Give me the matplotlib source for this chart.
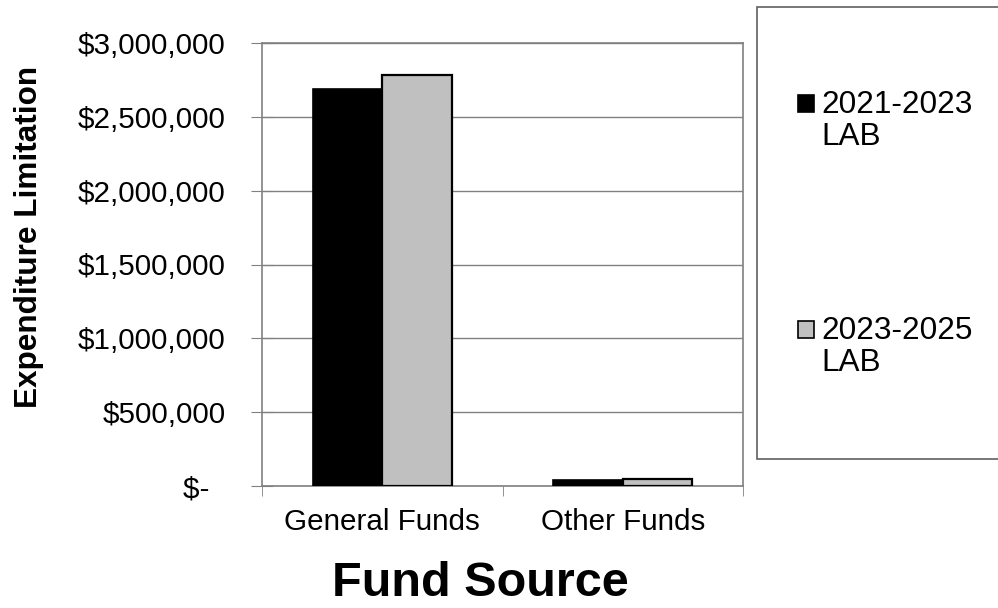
import numpy as np
import matplotlib.pyplot as plt
from matplotlib.patches import Rectangle

plt.rcParams['font.family'] = ['Liberation Sans', 'DejaVu Sans']

categories = ['General Funds', 'Other Funds']
series_names = ['2021-2023\nLAB', '2023-2025\nLAB']
series_colors = ['black', '#c0c0c0']
lab_2021 = [2690000, 38000]
lab_2023 = [2785000, 45000]
yticks = [0, 500000, 1000000, 1500000, 2000000, 2500000, 3000000]
ytick_labels = ['$-  ', '$500,000', '$1,000,000', '$1,500,000', '$2,000,000', '$2,500,000', '$3,000,000']

fig = plt.figure(figsize=(9.98, 6.08), dpi=100)
ax = fig.add_axes([262/998, 1 - 486/608, 481/998, 443/608])

x = np.arange(len(categories))
w = 0.29
ax.bar(x - w/2, lab_2021, w, color=series_colors[0], edgecolor='black', linewidth=1.2, zorder=3)
ax.bar(x + w/2, lab_2023, w, color=series_colors[1], edgecolor='black', linewidth=1.6, zorder=3)

ax.set_xlim(-0.5, 1.5)
ax.set_ylim(0, 3000000)
ax.set_yticks(yticks)
ax.set_yticklabels(ytick_labels, fontsize=21.3)
ax.set_xticks(x)
ax.set_xticklabels(categories, fontsize=21.3)
ax.tick_params(axis='x', length=0, pad=16)
ax.set_xticks([-0.5, 0.5, 1.5], minor=True)
ax.tick_params(axis='x', which='minor', length=7, color='#808080')
ax.tick_params(axis='y', direction='inout', length=16, color='#808080', pad=18)
ax.grid(axis='y', color='#808080', linewidth=1, zorder=0)
for s in ax.spines.values():
    s.set_color('#808080')
    s.set_linewidth(1.2)

fig.text(29/998, 1 - 237/608, 'Expenditure Limitation', rotation=90, fontsize=22.7,
         fontweight='bold', ha='center', va='center')
fig.text(480/998, 1 - 584/608, 'Fund Source', fontsize=35, fontweight='bold',
         ha='center', va='center')

# legend box
fig.patches.append(Rectangle((757/998, 1 - 459/608), 250/998, 452/608,
                             transform=fig.transFigure, facecolor='white',
                             edgecolor='#606060', linewidth=1.2))
legend_tops = [95, 321]
for name, col, top in zip(series_names, series_colors, legend_tops):
    fig.patches.append(Rectangle((798/998, 1 - (top + 17)/608), 16/998, 17/608,
                                 transform=fig.transFigure, facecolor=col,
                                 edgecolor='black', linewidth=1.2))
    fig.text(821/998, 1 - (top - 5)/608, name, fontsize=22.7, ha='left', va='top',
             linespacing=1.1)

fig.savefig('out.png', dpi=100)
